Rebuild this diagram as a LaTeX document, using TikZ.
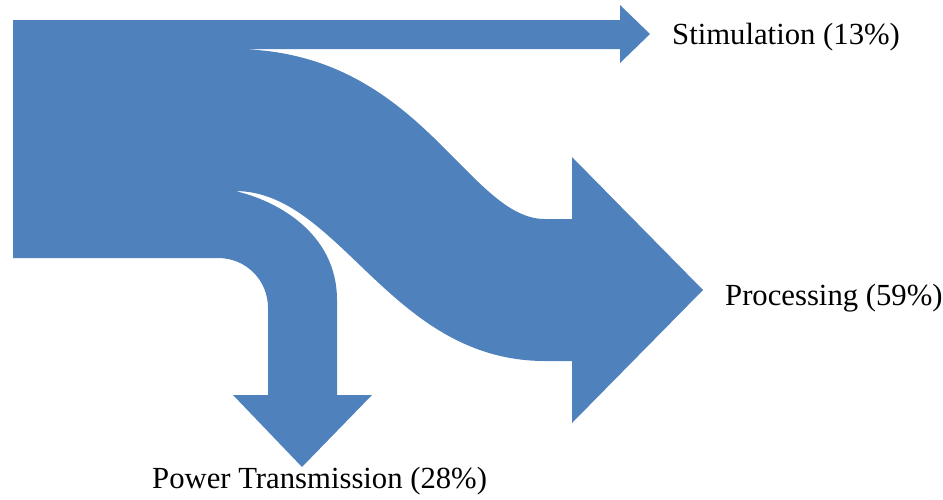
\documentclass[tikz,border=0pt]{standalone}
\usepackage{fontspec}
\setmainfont{Liberation Serif}
\usetikzlibrary{positioning}
\definecolor{flowblue}{HTML}{4F81BD}

\begin{document}
\begin{tikzpicture}[x=1pt,y=-1pt, label/.style={inner sep=0pt, anchor=base west, font=\fontsize{30.7}{36}\selectfont}]
\useasboundingbox (0,0) rectangle (943,499);
% the three flows as one filled shape
\fill [flowblue] (13,20) -- (620,20) -- (620,5) -- (650,34) -- (620,63) -- (620,49) -- (233,49)
  .. controls (420,49) and (467,219) .. (545,219) -- (572,219) -- (572,157) -- (703,290)
  -- (572,423) -- (572,361) -- (545,361)
  .. controls (390,361) and (340,191) .. (235,191)
  .. controls (275,200) and (337,232) .. (337,300) -- (337,395) -- (372,395) -- (302,467)
  -- (233,395) -- (268,395) -- (268,308)
  .. controls (268,280) and (246,258) .. (218,258) -- (13,258) -- cycle;
\node [label] (stim) at (672,44) {Stimulation (13\%)};
\node [label] (proc) at (725,305) {Processing (59\%)};
\node [label] (power) at (152,488) {Power Transmission (28\%)};
\end{tikzpicture}
\end{document}
